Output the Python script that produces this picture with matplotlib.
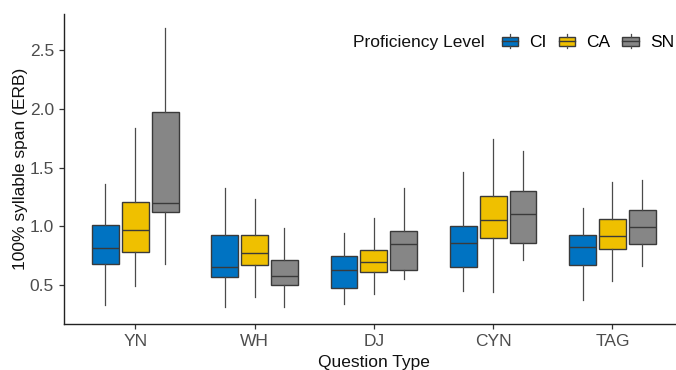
import numpy as np
import matplotlib
matplotlib.use("Agg")
import matplotlib.pyplot as plt
from matplotlib.legend_handler import HandlerBase
from matplotlib.patches import Rectangle
from matplotlib.lines import Line2D

plt.rcParams['font.family'] = ['Liberation Sans', 'DejaVu Sans']

# question types and proficiency levels
qtypes = ['YN', 'WH', 'DJ', 'CYN', 'TAG']
levels = ['CI', 'CA', 'SN']
colors = ['#0073C2', '#EFC000', '#868686']

# box stats, one row per question type, one column per level
whis_lo = np.array([[0.33, 0.49, 0.68],
                    [0.31, 0.40, 0.31],
                    [0.34, 0.42, 0.55],
                    [0.45, 0.44, 0.71],
                    [0.37, 0.53, 0.66]])
q1 = np.array([[0.68, 0.78, 1.12],
               [0.565, 0.665, 0.50],
               [0.47, 0.61, 0.63],
               [0.65, 0.90, 0.86],
               [0.665, 0.805, 0.85]])
med = np.array([[0.81, 0.97, 1.195],
                [0.655, 0.775, 0.575],
                [0.63, 0.695, 0.85],
                [0.86, 1.05, 1.10],
                [0.825, 0.915, 0.99]])
q3 = np.array([[1.01, 1.205, 1.97],
               [0.925, 0.925, 0.71],
               [0.75, 0.80, 0.955],
               [1.00, 1.26, 1.30],
               [0.925, 1.065, 1.14]])
whis_hi = np.array([[1.36, 1.84, 2.69],
                    [1.33, 1.23, 0.985],
                    [0.94, 1.07, 1.33],
                    [1.46, 1.74, 1.64],
                    [1.155, 1.375, 1.39]])

fig = plt.figure(figsize=(6.76, 3.70), dpi=100)
ax = fig.add_axes([63.7 / 676, 1 - 324 / 370, (684 - 63.7) / 676, (324 - 14) / 370])

offsets = [-0.25, 0.0, 0.25]
for j, lev in enumerate(levels):
    stats = []
    for i in range(len(qtypes)):
        stats.append(dict(whislo=whis_lo[i, j], q1=q1[i, j], med=med[i, j],
                          q3=q3[i, j], whishi=whis_hi[i, j], fliers=[]))
    pos = np.arange(1, len(qtypes) + 1) + offsets[j]
    ax.bxp(stats, positions=pos, widths=0.225, patch_artist=True, showcaps=False,
           manage_ticks=False,
           boxprops=dict(facecolor=colors[j], edgecolor='#3a3a3a', linewidth=1.0),
           medianprops=dict(color='#3a3a3a', linewidth=1.0),
           whiskerprops=dict(color='#4a4a4a', linewidth=0.9))

ax.set_xlim(0.4, 5.6)
ax.set_ylim(0.166, 2.81)
ax.set_xticks(np.arange(1, len(qtypes) + 1))
ax.set_xticklabels(qtypes)
ax.set_yticks([0.5, 1.0, 1.5, 2.0, 2.5])
ax.set_yticklabels(['0.5', '1.0', '1.5', '2.0', '2.5'])
for s in ['top', 'right']:
    ax.spines[s].set_visible(False)
for s in ['left', 'bottom']:
    ax.spines[s].set_color('#222222')
    ax.spines[s].set_linewidth(1.0)
ax.tick_params(axis='both', colors='#333333', labelcolor='#4d4d4d', labelsize=12.5,
               length=3.5, width=0.9)
ax.set_ylabel('100% syllable span (ERB)', fontsize=12.5, color='#111111', labelpad=1.5)
ax.set_xlabel('Question Type', fontsize=12.5, color='#111111', labelpad=4.5)


class BoxKey(HandlerBase):
    def create_artists(self, legend, orig_handle, xdescent, ydescent, width, height,
                       fontsize, trans):
        bh = height * 0.62
        y0 = (height - bh) / 2 - ydescent
        x0 = -xdescent
        r = Rectangle((x0, y0), width, bh, facecolor=orig_handle.get_facecolor(),
                      edgecolor='#3a3a3a', linewidth=1.0, transform=trans)
        cx = x0 + width / 2
        l1 = Line2D([cx, cx], [-ydescent, y0], color='#4a4a4a', lw=0.9, transform=trans)
        l2 = Line2D([cx, cx], [y0 + bh, height - ydescent], color='#4a4a4a', lw=0.9,
                    transform=trans)
        l3 = Line2D([x0, x0 + width], [y0 + bh / 2, y0 + bh / 2],
                    color='#3a3a3a', lw=1.0, transform=trans)
        return [r, l1, l2, l3]


handles = [Rectangle((0, 0), 1, 1, facecolor=c) for c in colors]
leg = fig.legend(handles, levels, ncol=3, loc='center left',
                 bbox_to_anchor=(501.7 / 676, 1 - 42 / 370), frameon=False,
                 handler_map={Rectangle: BoxKey()}, fontsize=12.5,
                 handlelength=0.96, handleheight=0.92, handletextpad=0.62,
                 columnspacing=0.7, borderpad=0, borderaxespad=0)
fig.text(352.7 / 676, 1 - 42 / 370, 'Proficiency Level', fontsize=12.5, color='#111111',
         ha='left', va='center')

fig.savefig('out.png', dpi=100)
